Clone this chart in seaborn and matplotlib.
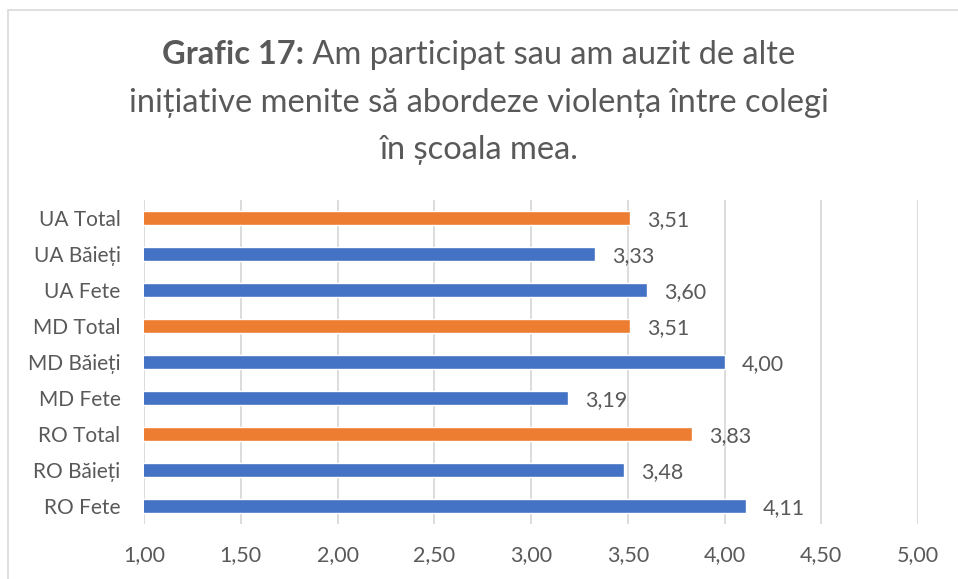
import matplotlib
matplotlib.use('Agg')
import matplotlib.pyplot as plt
import matplotlib.patches as mpatches
import seaborn as sns
import pandas as pd

categories = ['UA Total', 'UA Băieți', 'UA Fete', 'MD Total', 'MD Băieți',
              'MD Fete', 'RO Total', 'RO Băieți', 'RO Fete']
values = [3.51, 3.33, 3.60, 3.51, 4.00, 3.19, 3.83, 3.48, 4.11]
groups = ['Total' if 'Total' in c else 'Gen' for c in categories]
xticks = [1.0, 1.5, 2.0, 2.5, 3.0, 3.5, 4.0, 4.5, 5.0]

BLUE = '#4472C4'
ORANGE = '#ED7D31'
TXT = '#595959'
GRID = '#D9D9D9'

sns.set_style('white')
plt.rcParams['font.family'] = ['Lato', 'DejaVu Sans']

df = pd.DataFrame({'cat': categories, 'val': values, 'grp': groups})

fig = plt.figure(figsize=(9.58, 5.79), dpi=100)
ax = fig.add_axes([144 / 958, 1 - 524 / 579, (918 - 144) / 958, 324 / 579])

sns.barplot(data=df, x='val', y='cat', hue='grp', palette={'Total': ORANGE, 'Gen': BLUE},
            dodge=False, width=0.4, saturation=1, legend=False, ax=ax, zorder=3)

ax.set_xlim(1, 5)
ax.set_ylim(8.5, -0.5)
ax.set_xticks(xticks)
ax.set_xticklabels([f'{t:.2f}'.replace('.', ',') for t in xticks], color=TXT, fontsize=15.5)
ax.tick_params(axis='y', labelcolor=TXT, labelsize=15, length=0, pad=17)
ax.tick_params(axis='x', length=0, pad=15)
ax.set_xlabel('')
ax.set_ylabel('')
ax.xaxis.grid(True, color=GRID, linewidth=1.3, zorder=0)
for s in ax.spines.values():
    s.set_visible(False)

for i, v in enumerate(values):
    ax.text(v + 0.09, i + 0.06, f'{v:.2f}'.replace('.', ','), va='center', ha='left',
            color=TXT, fontsize=15.5)

# chart frame
fig.patches.append(mpatches.Rectangle((8 / 958, -0.05), 1.2, 1 - 10 / 579 + 0.05,
                                      transform=fig.transFigure, fill=False,
                                      edgecolor=GRID, linewidth=1.2))

# title with bold prefix
fig.canvas.draw()
r = fig.canvas.get_renderer()
fs = 23.5
bold = 'Grafic 17:'
rest = ' Am participat sau am auzit de alte'
tb = fig.text(0, 0, bold, fontsize=fs, fontweight='bold', color=TXT)
tr = fig.text(0, 0, rest, fontsize=fs, color=TXT)
wb = tb.get_window_extent(r).width / fig.bbox.width
wr = tr.get_window_extent(r).width / fig.bbox.width
x0 = 0.5 - (wb + wr) / 2
y1 = 1 - 55 / 579
tb.set_position((x0, y1)); tb.set_va('center')
tr.set_position((x0 + wb, y1)); tr.set_va('center')
fig.text(0.5, 1 - 103 / 579, 'inițiative menite să abordeze violența între colegi',
         fontsize=fs, color=TXT, ha='center', va='center')
fig.text(0.5, 1 - 150 / 579, 'în școala mea.', fontsize=fs, color=TXT,
         ha='center', va='center')

fig.savefig('out.png', dpi=100)
